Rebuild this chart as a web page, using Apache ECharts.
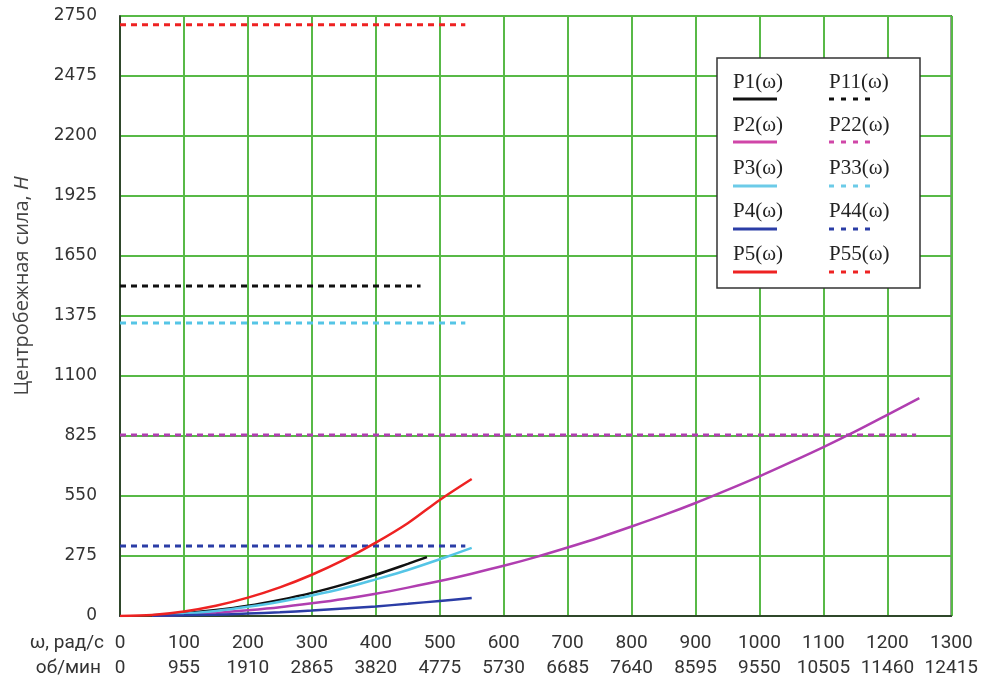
<!DOCTYPE html>
<html>
<head>
<meta charset="utf-8">
<script src="https://cdn.jsdelivr.net/npm/echarts@6/dist/echarts.min.js"></script>
<style>html,body{margin:0;padding:0;background:#fff;}#c{width:981px;height:683px;}</style>
</head>
<body>
<div id="c"></div>
<script>
// ---- data ----
const omegaTicks = [0,100,200,300,400,500,600,700,800,900,1000,1100,1200,1300];
const rpmLabels  = ['0','955','1910','2865','3820','4775','5730','6685','7640','8595','9550','10505','11460','12415'];
const yTicks = [0,275,550,825,1100,1375,1650,1925,2200,2475,2750];

const w1 = [50,100,150,200,250,300,350,400,450,480];
const p1 = [3,12,27,47,74,106,145,189,239,270];

const w2 = [50,100,150,200,250,300,350,400,450,500,550,600,650,700,750,800,850,900,950,1000,1050,1100,1150,1200,1250];
const p2 = [2,6,14,26,40,58,78,102,130,160,194,230,270,314,360,410,462,518,578,640,706,774,846,922,999];

const w3 = [50,100,150,200,250,300,350,400,450,500,550];
const p3 = [3,10,23,42,65,94,127,168,211,260,312];

const w4 = [50,100,150,200,250,300,350,400,450,500,550];
const p4 = [1,3,6,11,17,25,34,44,56,69,82];

const w5 = [0,50,100,150,200,250,300,350,400,450,500,550];
const p5 = [0,5,21,47,84,131,189,257,336,425,532,628];

const limitNames  = ['P11(ω)','P22(ω)','P33(ω)','P44(ω)','P55(ω)'];
const limitValues = [1512, 830, 1343, 321, 2710];
const limitEnds   = [470, 1245, 540, 540, 540];

const curveNames = ['P1(ω)','P2(ω)','P3(ω)','P4(ω)','P5(ω)'];
const colors = ['#111111', '#B03EB0', '#55C5E6', '#2B3DA6', '#EE2222'];
const legendColors = ['#111111', '#D046A8', '#6CCBE8', '#2B3DA6', '#EE2222'];

// ---- build ----
const pair = (xs, ys) => xs.map((x, i) => [x, ys[i]]);
const curves = [pair(w1,p1), pair(w2,p2), pair(w3,p3), pair(w4,p4), pair(w5,p5)];

const series = [];
limitValues.forEach((v, i) => {
  series.push({
    name: limitNames[i], type: 'line', symbol: 'none', silent: true,
    data: [[0, v], [limitEnds[i], v]],
    lineStyle: { color: colors[i], width: 3, type: [6, 5] }, z: 3
  });
});
curves.forEach((d, i) => {
  series.push({
    name: curveNames[i], type: 'line', symbol: 'none', silent: true, smooth: 0.3,
    data: d, lineStyle: { color: colors[i], width: 2.5 }, z: 4
  });
});

// legend drawn as graphic (text above sample line)
const lg = [];
lg.push({ type: 'rect', shape: { x: 717, y: 58, width: 203, height: 230 },
  style: { fill: '#fff', stroke: '#333', lineWidth: 1.5 }, z: 100 });
const rowY = [82, 125, 168, 211, 254];
const lineY = [99, 142, 186, 229, 272];
for (let i = 0; i < 5; i++) {
  lg.push({ type: 'text', x: 733, y: rowY[i], z: 101,
    style: { text: curveNames[i], font: '21px "Liberation Serif"', fill: '#222', verticalAlign: 'middle' } });
  lg.push({ type: 'text', x: 829, y: rowY[i], z: 101,
    style: { text: limitNames[i], font: '21px "Liberation Serif"', fill: '#222', verticalAlign: 'middle' } });
  lg.push({ type: 'line', shape: { x1: 733, y1: lineY[i], x2: 777, y2: lineY[i] }, z: 101,
    style: { stroke: legendColors[i], lineWidth: 3 } });
  lg.push({ type: 'line', shape: { x1: 829, y1: lineY[i], x2: 873, y2: lineY[i] }, z: 101,
    style: { stroke: legendColors[i], lineWidth: 3, lineDash: [5, 7] } });
}
// axis captions
lg.push({ type: 'text', x: 104, y: 643, z: 50,
  style: { text: 'ω, рад/с', font: '19px Roboto', fill: '#333', align: 'right', verticalAlign: 'middle' } });
lg.push({ type: 'text', x: 101, y: 668, z: 50,
  style: { text: 'об/мин', font: '19px Roboto', fill: '#333', align: 'right', verticalAlign: 'middle' } });
lg.push({ type: 'text', x: 22, y: 286, rotation: Math.PI / 2, z: 50,
  style: { text: 'Центробежная сила, {i|Н}', font: '20px "Open Sans"', fill: '#444', align: 'center', verticalAlign: 'middle',
    rich: { i: { fontStyle: 'italic', fontSize: 20, fontFamily: 'Open Sans', fill: '#444' } } } });

const chart = echarts.init(document.getElementById('c'), null, { renderer: 'canvas' });
chart.setOption({
  animation: false,
  backgroundColor: '#fff',
  grid: { left: 120, right: 29, top: 16, bottom: 67, show: true, borderColor: '#222', borderWidth: 1.5, backgroundColor: 'transparent' },
  xAxis: {
    type: 'value', min: 0, max: 1300, interval: 100,
    axisLine: { show: true, onZero: false, lineStyle: { color: '#222', width: 1.5 } },
    axisTick: { show: false },
    splitLine: { show: true, lineStyle: { color: '#58B947', width: 2 } },
    axisLabel: {
      margin: 15, lineHeight: 25, color: '#333', fontFamily: 'Roboto', fontSize: 19,
      formatter: v => { const i = omegaTicks.indexOf(v); return i < 0 ? '' : omegaTicks[i] + '\n' + rpmLabels[i]; }
    }
  },
  yAxis: {
    type: 'value', min: 0, max: 2750, interval: 275,
    axisLine: { show: true, lineStyle: { color: '#222', width: 1.5 } },
    axisTick: { show: false },
    splitLine: { show: true, lineStyle: { color: '#58B947', width: 2 } },
    axisLabel: { margin: 23, color: '#333', fontFamily: 'DejaVu Sans', fontSize: 17,
      formatter: v => yTicks.indexOf(v) < 0 ? '' : String(v) }
  },
  graphic: lg,
  series: series
});
</script>
</body>
</html>
